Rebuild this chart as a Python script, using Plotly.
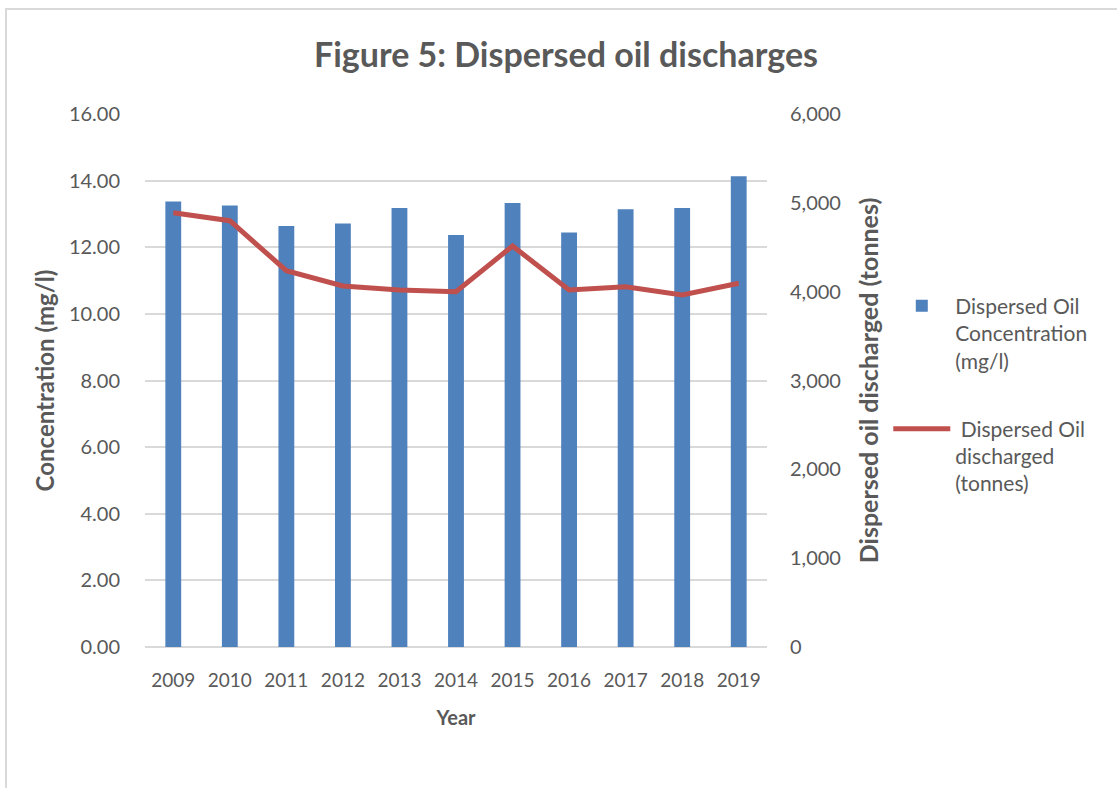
import plotly.graph_objects as go

years = ["2009", "2010", "2011", "2012", "2013", "2014", "2015", "2016", "2017", "2018", "2019"]
concentration = [13.37, 13.25, 12.64, 12.71, 13.18, 12.37, 13.33, 12.44, 13.14, 13.18, 14.13]
discharged = [4889, 4799, 4236, 4064, 4019, 4000, 4514, 4019, 4056, 3963, 4094]

left_ticks = [0, 2, 4, 6, 8, 10, 12, 14, 16]
right_ticks = [0, 1000, 2000, 3000, 4000, 5000, 6000]

FONT = "Lato"
GREY = "#595959"
GRID = "#d9d9d9"

fig = go.Figure()
fig.add_trace(go.Bar(
    x=years, y=concentration, name="Dispersed Oil<br>Concentration<br>(mg/l)",
    legendgroup="a",
    marker=dict(color="#4f81bd", line=dict(width=0)), yaxis="y",
))
fig.add_trace(go.Scatter(
    x=years, y=discharged, name=" Dispersed Oil<br>discharged<br>(tonnes)",
    legendgroup="b",
    mode="lines", line=dict(color="#c0504d", width=5), yaxis="y2",
))

fig.update_layout(
    width=1117, height=788,
    margin=dict(l=145, r=350, t=114, b=141),
    paper_bgcolor="white", plot_bgcolor="white",
    font=dict(family=FONT, size=18, color=GREY),
    title=dict(text="<b>Figure 5: Dispersed oil discharges</b>", x=566 / 1117, xanchor="center",
               y=1 - 55 / 788, yanchor="middle", font=dict(family=FONT, size=34, color=GREY)),
    bargap=0.72,
    showlegend=True,
    legend=dict(x=1.195, xanchor="left", y=0.678, yanchor="top", font=dict(size=21, color=GREY),
                tracegroupgap=38, bgcolor="rgba(0,0,0,0)", valign="top", itemwidth=57),
    xaxis=dict(type="category", showgrid=False, showline=False, ticks="", ticklabelstandoff=20,
               title=dict(text="<b>Year</b>", font=dict(size=20, color=GREY), standoff=20),
               tickfont=dict(size=19, color=GREY)),
    yaxis=dict(range=[0, 16], tickvals=left_ticks, tickformat=".2f", showgrid=True, gridcolor=GRID, gridwidth=1.5,
               zeroline=True, zerolinecolor=GRID, zerolinewidth=1.5, showline=False, ticks="", ticklabelstandoff=24,
               title=dict(text="<b>Concentration (mg/l)</b>", font=dict(size=24, color=GREY), standoff=7),
               tickfont=dict(size=20, color=GREY)),
    yaxis2=dict(range=[0, 6000], tickvals=right_ticks, tickformat=",d", overlaying="y", side="right", showgrid=False,
                zeroline=False, showline=False, ticks="", ticklabelstandoff=22,
                title=dict(text="<b>Dispersed oil discharged (tonnes)</b>", font=dict(size=25, color=GREY), standoff=20),
                tickfont=dict(size=20, color=GREY)),
    shapes=[dict(type="rect", xref="paper", yref="paper",
                 x0=(6 - 145) / 622, x1=(1130 - 145) / 622, y0=(647 - 800) / 533, y1=(647 - 9) / 533,
                 line=dict(color=GRID, width=2), fillcolor="rgba(0,0,0,0)", layer="below")],
)

fig.write_html("out.html")
